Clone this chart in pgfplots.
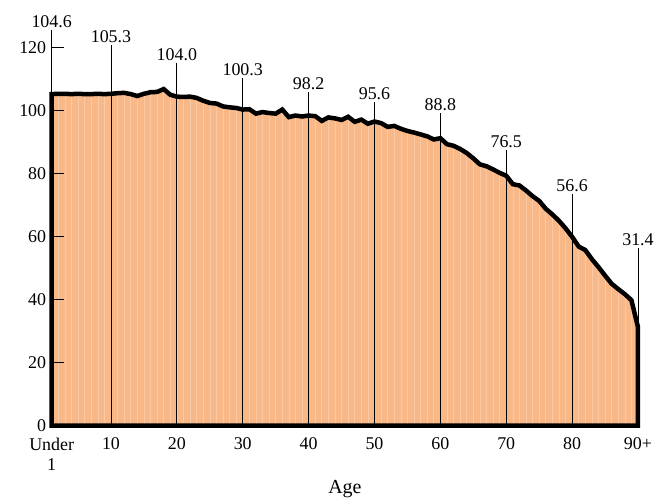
\documentclass[border=0pt]{standalone}
\usepackage{fontspec}
\setmainfont{Liberation Serif}
\usepackage{pgfplots}
\usepackage{pgfplotstable}
\pgfplotsset{compat=1.18}
\definecolor{areafill}{HTML}{F9B888}
\newcommand\fsz{\fontsize{18}{20}\selectfont}
\newcommand\lsz{\fontsize{20}{22}\selectfont}

\pgfplotstableread{
x y
1 105.2
2 105.3
3 105.3
4 105.2
5 105.3
6 105.2
7 105.2
8 105.3
9 105.2
10 105.3
11 105.5
12 105.6
13 105.2
14 104.6
15 105.3
16 105.8
17 105.9
18 106.8
19 105.0
20 104.4
21 104.3
22 104.4
23 104.0
24 103.1
25 102.4
26 102.2
27 101.3
28 101.0
29 100.8
30 100.3
31 100.4
32 99.0
33 99.5
34 99.2
35 99.0
36 100.3
37 97.9
38 98.4
39 98.1
40 98.4
41 98.2
42 96.7
43 97.8
44 97.5
45 97.0
46 98.0
47 96.4
48 97.1
49 95.8
50 96.5
51 96.0
52 94.8
53 95.1
54 94.2
55 93.5
56 93.0
57 92.4
58 91.8
59 90.8
60 91.2
61 89.3
62 88.8
63 87.8
64 86.5
65 84.8
66 82.9
67 82.3
68 81.3
69 80.2
70 79.3
71 76.6
72 76.2
73 74.6
74 72.8
75 71.3
76 68.8
77 67.0
78 65.0
79 62.6
80 59.9
81 56.8
82 55.7
83 52.8
84 50.3
85 47.6
86 45.0
87 43.3
88 41.7
89 39.8
90 31.2
}\ratio

\pgfplotstableread{
x y lab
1 125.6 104.6
10 120.8 105.3
20 115.1 104.0
30 110.3 100.3
40 105.9 98.2
50 102.7 95.6
60 99.2 88.8
70 87.5 76.5
80 73.5 56.6
90 56.3 31.4
}\callouts

\begin{document}
\begin{tikzpicture}
\path[use as bounding box] (-51.7bp,-74.5bp) rectangle (605.3bp,425.5bp);
\begin{axis}[
  at={(0,0)}, anchor=south west,
  scale only axis, width=586.3bp, height=378bp,
  xmin=1, xmax=90, ymin=0, ymax=120,
  clip=false,
  axis on top,
  axis line style={draw=none},
  xtick={1,10,20,30,40,50,60,70,80,90},
  xticklabels={{Under\\1},10,20,30,40,50,60,70,80,90+},
  xticklabel style={align=center, anchor=north, yshift=-9bp},
  major x tick style={draw=none},
  ytick={0,20,40,60,80,100,120},
  ytick pos=left,
  tick align=inside,
  major tick length=12bp,
  major y tick style={black, line width=0.8bp},
  yticklabel style={xshift=-2bp},
  /pgf/number format/assume math mode=true,
  tick label style={font=\fsz},
  xlabel={Age},
  xlabel style={at={(axis description cs:0.5,0)}, anchor=base, yshift=-68bp, font=\lsz},
]
\addplot[fill=areafill, draw=none, mark=none] table[x=x,y=y] {\ratio} \closedcycle;
\addplot[ycomb, white, opacity=0.25, line width=0.6bp, mark=none] table[x=x,y=y] {\ratio};
\addplot[ycomb, black, line width=0.8bp, mark=none,
  nodes near coords, point meta=explicit symbolic,
  every node near coord/.style={anchor=south, font=\fsz, inner sep=1.5bp, text=black}]
  table[x=x,y=y,meta=lab] {\callouts};
\addplot[draw=black, line width=4.5bp, line join=miter, mark=none] table[x=x,y=y] {\ratio} \closedcycle;
\end{axis}
\end{tikzpicture}
\end{document}
